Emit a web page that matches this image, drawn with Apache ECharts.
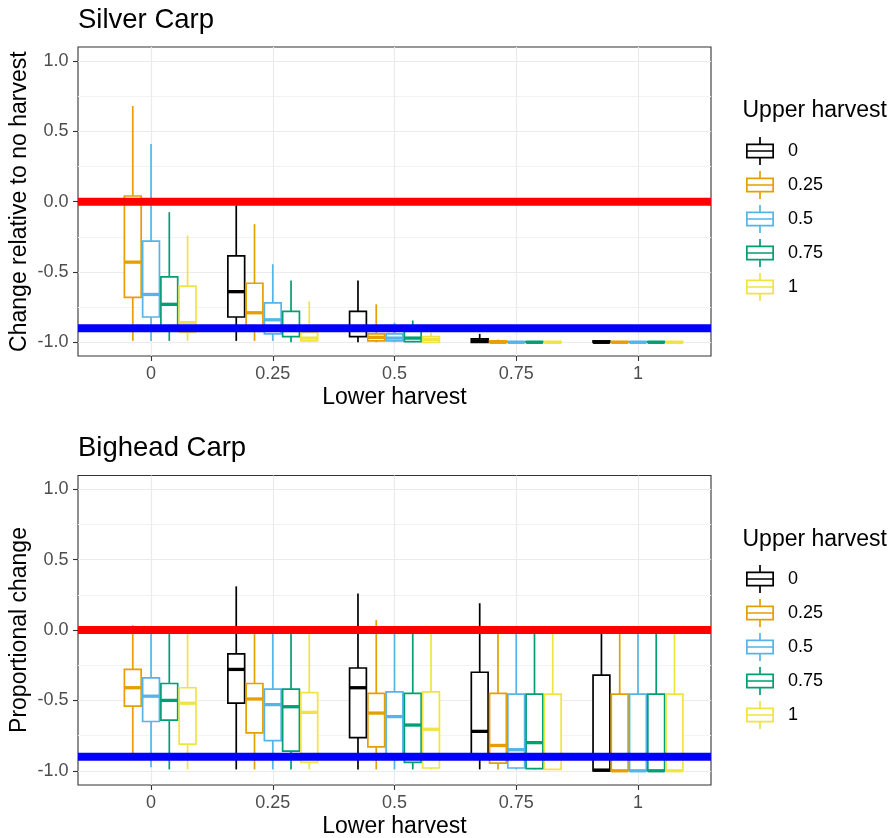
<!DOCTYPE html>
<html><head><meta charset="utf-8">
<script src="https://cdn.jsdelivr.net/npm/echarts@6/dist/echarts.min.js"></script>
<style>html,body{margin:0;padding:0;background:#fff}#c{width:891px;height:838px}</style>
</head><body><div id="c"></div>
<script>
// ---------- data ----------
const lowerHarvest = ['0', '0.25', '0.5', '0.75', '1'];
const upperHarvest = ['0', '0.25', '0.5', '0.75', '1'];
const yTickValues = [-1.0, -0.5, 0.0, 0.5, 1.0];
const refLines = [0, -0.9];
const panelTitles = ['Silver Carp', 'Bighead Carp'];
const yTitles = ['Change relative to no harvest', 'Proportional change'];
const xTitle = 'Lower harvest';
const legendTitle = 'Upper harvest';

// each box: [min, q1, median, q3, max] per lower harvest; null = no box
const silverU0    = [null, [-0.99, -0.82, -0.64, -0.385, -0.025], [-1.0, -0.96, -0.91, -0.78, -0.56], [-1.0, -1.0, -0.99, -0.975, -0.94], [-1.0, -1.0, -1.0, -0.99, -0.99]];
const silverU025  = [[-0.99, -0.68, -0.43, 0.04, 0.68], [-0.99, -0.91, -0.79, -0.58, -0.16], [-1.0, -0.99, -0.965, -0.94, -0.73], [-1.0, -1.0, -1.0, -0.99, -0.98], [-1.0, -1.0, -1.0, -0.995, -0.99]];
const silverU05   = [[-0.99, -0.82, -0.66, -0.28, 0.41], [-0.99, -0.94, -0.84, -0.72, -0.445], [-1.0, -0.99, -0.97, -0.94, -0.86], [-1.0, -1.0, -1.0, -0.995, -0.99], [-1.0, -1.0, -1.0, -0.995, -0.99]];
const silverU075  = [[-0.99, -0.9, -0.73, -0.535, -0.075], [-1.0, -0.96, -0.9, -0.78, -0.56], [-1.0, -0.995, -0.97, -0.915, -0.845], [-1.0, -1.0, -1.0, -0.995, -0.99], [-1.0, -1.0, -1.0, -0.995, -0.99]];
const silverU1    = [[-0.99, -0.93, -0.86, -0.60, -0.24], [-1.0, -0.99, -0.97, -0.93, -0.71], [-1.0, -1.0, -0.98, -0.96, -0.93], [-1.0, -1.0, -1.0, -0.995, -0.99], [-1.0, -1.0, -1.0, -0.995, -0.99]];

const bigheadU0   = [null, [-0.99, -0.52, -0.28, -0.17, 0.31], [-0.99, -0.765, -0.41, -0.27, 0.26], [-0.99, -0.9, -0.72, -0.30, 0.19], [-1.0, -1.0, -0.995, -0.32, 0.0]];
const bigheadU025 = [[-0.9, -0.54, -0.41, -0.28, 0.035], [-0.99, -0.73, -0.49, -0.38, 0.0], [-0.99, -0.83, -0.59, -0.45, 0.07], [-0.99, -0.945, -0.82, -0.45, 0.0], [-1.0, -1.0, -1.0, -0.455, 0.0]];
const bigheadU05  = [[-0.975, -0.65, -0.47, -0.34, 0.0], [-0.99, -0.785, -0.53, -0.42, 0.0], [-0.99, -0.91, -0.615, -0.44, 0.0], [-0.99, -0.98, -0.85, -0.455, 0.0], [-1.0, -1.0, -1.0, -0.455, 0.0]];
const bigheadU075 = [[-0.99, -0.64, -0.50, -0.38, 0.0], [-0.99, -0.86, -0.545, -0.42, 0.0], [-0.99, -0.94, -0.675, -0.45, 0.0], [-0.99, -0.985, -0.80, -0.455, 0.0], [-1.0, -1.0, -1.0, -0.455, 0.0]];
const bigheadU1   = [[-0.99, -0.81, -0.52, -0.41, 0.0], [-0.99, -0.94, -0.585, -0.445, 0.0], [-0.99, -0.98, -0.705, -0.44, 0.0], [-0.99, -0.99, -0.9, -0.455, 0.0], [-1.0, -1.0, -1.0, -0.455, 0.0]];

const panelData = [
  [silverU0, silverU025, silverU05, silverU075, silverU1],
  [bigheadU0, bigheadU025, bigheadU05, bigheadU075, bigheadU1]
];

// ---------- style / layout ----------
const groupColors = ['#000000', '#E69F00', '#56B4E9', '#009E73', '#F0E442'];
const refColors = ['#FF0000', '#0000FF'];
const FONT = 'Liberation Sans, Arial, sans-serif';
const FRAME_LEFT = 78, FRAME_W = 633;
const X_PAD = 0.6;               // discrete-axis expansion
const X_SPAN = lowerHarvest.length - 1 + 2 * X_PAD;
const UNIT = FRAME_W / X_SPAN;
const DODGE = 0.15, BOXW = 0.138;
const panels = [
  { top: 47, h: 309, yTop: 61, yH: 281.3, legTop: 137, titleTop: 6.7, legTitleTop: 99.5 },
  { top: 475.5, h: 309.5, yTop: 489.2, yH: 281.6, legTop: 565, titleTop: 434.7, legTitleTop: 527.8 }
];
const legendIcon = 'path://M0 6.5h28v1.7h-28z M0 19.8h28v1.7h-28z M0 8.2h1.7v11.6h-1.7z M26.3 8.2h1.7v11.6h-1.7z M1.7 13.15h24.6v1.7h-24.6z M13.15 0h1.7v6.5h-1.7z M13.15 21.5h1.7v6.5h-1.7z';

function makeRenderItem(k) {
  return function (params, api) {
    const xi = api.value(0);
    const lo = api.coord([xi, api.value(1)]);
    const q1 = api.coord([xi, api.value(2)]);
    const md = api.coord([xi, api.value(3)]);
    const q3 = api.coord([xi, api.value(4)]);
    const hi = api.coord([xi, api.value(5)]);
    const slot = api.size([DODGE, 0])[0];
    const bw = api.size([BOXW, 0])[0];
    const cx = lo[0] + (k - 2) * slot;
    const color = api.visual('color');
    const lw = 1.7;
    return {
      type: 'group',
      children: [
        { type: 'line', shape: { x1: cx, y1: hi[1], x2: cx, y2: q3[1] }, style: { stroke: color, lineWidth: lw } },
        { type: 'line', shape: { x1: cx, y1: q1[1], x2: cx, y2: lo[1] }, style: { stroke: color, lineWidth: lw } },
        { type: 'rect', shape: { x: cx - bw / 2, y: q3[1], width: bw, height: q1[1] - q3[1] }, style: { fill: '#fff', stroke: color, lineWidth: lw } },
        { type: 'line', shape: { x1: cx - bw / 2, y1: md[1], x2: cx + bw / 2, y2: md[1] }, style: { stroke: color, lineWidth: 3.3 } }
      ]
    };
  };
}

function renderRefLine(params, api) {
  const y = api.coord([0, api.value(0)])[1];
  const cs = params.coordSys;
  return { type: 'rect', shape: { x: cs.x, y: y - 4, width: cs.width, height: 8 }, style: { fill: api.visual('color') } };
}

const option = {
  animation: false,
  backgroundColor: '#ffffff',
  title: [], legend: [], grid: [], xAxis: [], yAxis: [], series: []
};

panels.forEach((P, p) => {
  const g0 = p * 3;
  const gridBase = { containLabel: false, outerBoundsMode: 'none' };
  option.grid.push(Object.assign({ left: FRAME_LEFT, top: P.top, width: FRAME_W, height: P.h, show: true, borderColor: '#333333', borderWidth: 1.1, backgroundColor: 'transparent' }, gridBase));
  option.grid.push(Object.assign({ left: FRAME_LEFT + X_PAD * UNIT, top: P.top, width: (lowerHarvest.length - 1) * UNIT, height: P.h }, gridBase));
  option.grid.push(Object.assign({ left: FRAME_LEFT, top: P.yTop, width: FRAME_W, height: P.yH }, gridBase));

  option.xAxis.push({ gridIndex: g0, type: 'value', show: false, min: 0, max: 1 });
  option.yAxis.push({ gridIndex: g0, type: 'value', show: false, min: 0, max: 1 });

  option.xAxis.push({
    gridIndex: g0 + 1, type: 'category', data: lowerHarvest, boundaryGap: false,
    axisLine: { show: false, onZero: false },
    axisTick: { show: true, length: 5, lineStyle: { color: '#333333', width: 1.1 } },
    axisLabel: { interval: 0, margin: 9.5, fontSize: 18, color: '#4D4D4D', fontFamily: FONT },
    splitLine: { show: true, lineStyle: { color: '#EBEBEB', width: 1.2 } },
    name: xTitle, nameLocation: 'middle', nameGap: 30, nameMoveOverlap: false,
    nameTextStyle: { fontSize: 23, color: '#000', fontFamily: FONT }
  });
  option.yAxis.push({ gridIndex: g0 + 1, type: 'value', show: false, min: 0, max: 1 });

  option.xAxis.push({ gridIndex: g0 + 2, type: 'value', show: false, min: -X_PAD, max: lowerHarvest.length - 1 + X_PAD });
  option.yAxis.push({
    gridIndex: g0 + 2, type: 'value', min: yTickValues[0], max: yTickValues[yTickValues.length - 1], interval: 0.5,
    axisLine: { show: false, onZero: false },
    axisTick: { show: true, length: 5, lineStyle: { color: '#333333', width: 1.1 } },
    axisLabel: { margin: 9.5, fontSize: 18, color: '#4D4D4D', fontFamily: FONT, formatter: v => Number(v).toFixed(1) },
    splitLine: { show: true, lineStyle: { color: '#EBEBEB', width: 1.2 } },
    minorTick: { show: false, splitNumber: 2 },
    minorSplitLine: { show: true, lineStyle: { color: '#F3F3F3', width: 1 } },
    name: yTitles[p], nameLocation: 'middle', nameRotate: 90, nameGap: 47, nameMoveOverlap: false,
    nameTextStyle: { fontSize: 23, color: '#000', fontFamily: FONT }
  });

  option.title.push({ text: panelTitles[p], left: FRAME_LEFT, top: P.titleTop, padding: 0,
    textStyle: { fontSize: 27.5, fontWeight: 'normal', color: '#000', fontFamily: FONT } });
  option.title.push({ text: legendTitle, left: 742.5, top: P.legTitleTop, padding: 0,
    textStyle: { fontSize: 23, fontWeight: 'normal', color: '#000', fontFamily: FONT } });

  option.legend.push({
    data: upperHarvest, orient: 'vertical', left: 746, top: P.legTop, padding: 0,
    itemWidth: 28, itemHeight: 28, itemGap: 6, icon: legendIcon, selectedMode: false,
    itemStyle: { borderWidth: 0 },
    textStyle: { fontSize: 18, color: '#000', fontFamily: FONT, padding: [0, 0, 0, 9] }
  });

  panelData[p].forEach((boxes, k) => {
    const data = [];
    boxes.forEach((b, i) => { if (b) data.push([i].concat(b)); });
    option.series.push({
      type: 'custom', name: upperHarvest[k], xAxisIndex: g0 + 2, yAxisIndex: g0 + 2,
      itemStyle: { color: groupColors[k] },
      encode: { x: 0, y: [1, 2, 3, 4, 5] },
      renderItem: makeRenderItem(k), data: data, z: 2, silent: true
    });
  });

  option.series.push({
    type: 'custom', name: 'reference' + p, xAxisIndex: g0 + 2, yAxisIndex: g0 + 2, z: 5, silent: true,
    encode: { y: 0 },
    data: refLines.map((v, i) => ({ value: [v], itemStyle: { color: refColors[i] } })),
    renderItem: renderRefLine
  });
});

const chart = echarts.init(document.getElementById('c'), null, { renderer: 'canvas' });
chart.setOption(option);
</script>
</body></html>
